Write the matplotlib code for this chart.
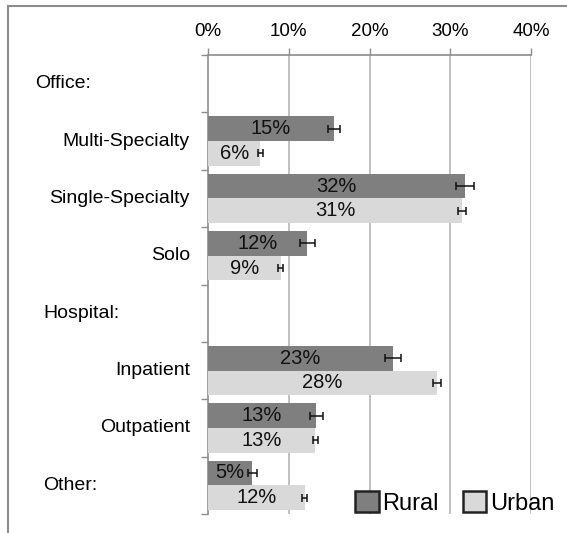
import numpy as np
import matplotlib.pyplot as plt
from matplotlib.patches import Rectangle
from matplotlib.transforms import blended_transform_factory

plt.rcParams['font.family'] = ['Liberation Sans', 'DejaVu Sans']

# Data
categories = ["Office:", "Multi-Specialty", "Single-Specialty", "Solo",
              "Hospital:", "Inpatient", "Outpatient", "Other:"]
is_header = [True, False, False, False, True, False, False, True]
rural = [None, 15.6, 31.8, 12.3, None, 22.9, 13.4, 5.5]
urban = [None, 6.5, 31.5, 9.0, None, 28.4, 13.3, 12.0]
rural_err = [None, 0.8, 1.1, 0.9, None, 1.0, 0.8, 0.6]
urban_err = [None, 0.3, 0.5, 0.3, None, 0.5, 0.3, 0.3]
rural_lbl = [None, "15%", "32%", "12%", None, "23%", "13%", "5%"]
urban_lbl = [None, "6%", "31%", "9%", None, "28%", "13%", "12%"]
xticks = [0, 10, 20, 30, 40]

dark = "#7f7f7f"
light = "#d9d9d9"
axis_col = "#8c8c8c"
grid_col = "#b4b4b4"

fig = plt.figure(figsize=(5.67, 5.33), dpi=100)
ax = fig.add_axes([208/567, 1-514/533, (531-208)/567, (514-55)/533])

h = 0.43
for i in range(len(categories)):
    c = i + 0.5
    if rural[i] is not None:
        ax.barh(c - h/2, rural[i], height=h, color=dark, zorder=3)
        ax.errorbar(rural[i], c - h/2, xerr=rural_err[i], fmt='none',
                    ecolor='#111111', elinewidth=1.1, capsize=3, capthick=1.1, zorder=4)
        ax.text(rural[i]/2, c - h/2, rural_lbl[i], ha='center', va='center',
                fontsize=14.5, color='#111111', zorder=5)
    if urban[i] is not None:
        ax.barh(c + h/2, urban[i], height=h, color=light, zorder=3)
        ax.errorbar(urban[i], c + h/2, xerr=urban_err[i], fmt='none',
                    ecolor='#111111', elinewidth=1.1, capsize=3, capthick=1.1, zorder=4)
        ax.text(urban[i]/2, c + h/2, urban_lbl[i], ha='center', va='center',
                fontsize=14.5, color='#111111', zorder=5)

ax.set_xlim(0, 40)
ax.set_ylim(len(categories), 0)

ax.xaxis.tick_top()
ax.set_xticks(xticks)
ax.set_xticklabels([f"{t}%" for t in xticks], fontsize=13.5)
ax.tick_params(axis='x', direction='out', length=5, width=1, color=axis_col, pad=6)
ax.set_yticks(np.arange(len(categories) + 1))
ax.set_yticklabels([])
ax.tick_params(axis='y', direction='out', length=5, width=1, color=axis_col)

for t in xticks[1:]:
    ax.axvline(t, color=grid_col, lw=1.2, zorder=1)

for s in ['right', 'bottom']:
    ax.spines[s].set_visible(False)
for s in ['left', 'top']:
    ax.spines[s].set_color(axis_col)
    ax.spines[s].set_linewidth(1.2)

# category labels
trans = blended_transform_factory(fig.transFigure, ax.transData)
for i, name in enumerate(categories):
    if is_header[i]:
        x0 = 35/567 if i == 0 else 43/567
        ax.text(x0, i + 0.5, name, transform=trans, ha='left', va='center', fontsize=14)
    else:
        ax.text(190/567, i + 0.5, name, transform=trans, ha='right', va='center', fontsize=14)

# legend
handles = [Rectangle((0, 0), 1, 1, fc=dark, ec='#222222', lw=1.8),
           Rectangle((0, 0), 1, 1, fc=light, ec='#222222', lw=1.8)]
fig.legend(handles, ["Rural", "Urban"], loc='center right',
           bbox_to_anchor=(566/567, 1-503/533), ncol=2, frameon=False,
           fontsize=17, handlelength=1.0, handleheight=1.0,
           handletextpad=0.15, columnspacing=1.0, borderpad=0)

# outer frame
top = 1 - 6/533
fig.add_artist(Rectangle((8/567, -0.2), 1.5, top + 0.2, transform=fig.transFigure,
                         fill=False, ec='#8c8c8c', lw=1.5))

fig.savefig("out.png", dpi=100)
